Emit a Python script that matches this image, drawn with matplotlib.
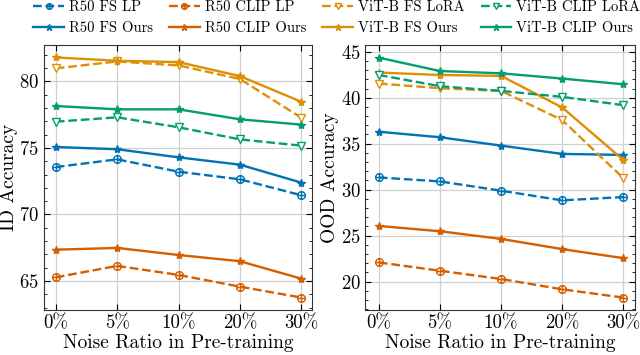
import numpy as np
import matplotlib
matplotlib.use("Agg")
import matplotlib.pyplot as plt
from matplotlib.path import Path
from matplotlib.ticker import AutoMinorLocator

plt.rcParams["font.family"] = "serif"
plt.rcParams["font.serif"] = ["cmr10"]
plt.rcParams["mathtext.fontset"] = "cm"
plt.rcParams["axes.formatter.use_mathtext"] = True
plt.rcParams["axes.unicode_minus"] = False

noise = ["0%", "5%", "10%", "20%", "30%"]

# ID accuracy
id_r50_fs_lp = [73.56, 74.14, 73.21, 72.64, 71.44]
id_r50_clip_lp = [65.27, 66.13, 65.45, 64.57, 63.75]
id_vit_fs_lora = [80.98, 81.50, 81.20, 80.18, 77.27]
id_vit_clip_lora = [76.97, 77.30, 76.55, 75.64, 75.17]
id_r50_fs_ours = [75.07, 74.90, 74.29, 73.74, 72.39]
id_r50_clip_ours = [67.35, 67.48, 66.95, 66.48, 65.17]
id_vit_fs_ours = [81.80, 81.55, 81.45, 80.40, 78.47]
id_vit_clip_ours = [78.15, 77.90, 77.90, 77.15, 76.75]

# OOD accuracy
ood_r50_fs_lp = [31.33, 30.90, 29.89, 28.84, 29.20]
ood_r50_clip_lp = [22.09, 21.19, 20.29, 19.17, 18.27]
ood_vit_fs_lora = [41.54, 41.03, 40.74, 37.57, 31.26]
ood_vit_clip_lora = [42.47, 41.25, 40.74, 40.09, 39.19]
ood_r50_fs_ours = [36.30, 35.70, 34.79, 33.89, 33.78]
ood_r50_clip_ours = [26.06, 25.48, 24.65, 23.54, 22.56]
ood_vit_fs_ours = [42.73, 42.47, 42.37, 38.94, 33.24]
ood_vit_clip_ours = [44.35, 42.90, 42.65, 42.08, 41.46]

c_blue = "#0173b2"
c_red = "#d55e00"
c_orange = "#de8f05"
c_green = "#029e73"

# circle with a plus inside
circ = Path.unit_circle()
cross = Path([(-1, 0), (1, 0), (0, -1), (0, 1)],
             [Path.MOVETO, Path.LINETO, Path.MOVETO, Path.LINETO])
oplus = Path.make_compound_path(circ, cross)

x = np.arange(len(noise))

fig = plt.figure(figsize=(6.4, 3.55), dpi=100)
ax1 = fig.add_axes([0.068, 0.127, 0.420, 0.746])
ax2 = fig.add_axes([0.571, 0.127, 0.421, 0.746])


def draw(ax, d):
    lw = 1.7
    ms = 5.5
    hs = []
    for vals, col, name, kind in d:
        if kind == "lp":
            h, = ax.plot(x, vals, color=col, ls="--", lw=lw, marker=oplus,
                         ms=ms, mfc="none", mew=1.0, label=name)
        elif kind == "lora":
            h, = ax.plot(x, vals, color=col, ls="--", lw=lw, marker="v",
                         ms=ms + 0.5, mfc="white", mew=1.0, label=name)
        else:
            h, = ax.plot(x, vals, color=col, ls="-", lw=lw, marker="*",
                         ms=ms + 0.5, label=name)
        hs.append(h)
    ax.set_xticks(x)
    ax.set_xticklabels(noise)
    ax.yaxis.set_minor_locator(AutoMinorLocator(5))
    ax.tick_params(which="both", direction="in", top=True, right=True,
                   labelsize=13.5)
    ax.tick_params(which="major", length=4)
    ax.tick_params(which="minor", length=2)
    ax.grid(True, color="#d0d0d0", lw=0.9)
    ax.set_axisbelow(True)
    for s in ax.spines.values():
        s.set_color("#333333")
    ax.set_xlabel("Noise Ratio in Pre-training", fontsize=14, labelpad=1)
    return hs


hs = draw(ax1, [
    (id_r50_fs_lp, c_blue, "R50 FS LP", "lp"),
    (id_r50_fs_ours, c_blue, "R50 FS Ours", "ours"),
    (id_r50_clip_lp, c_red, "R50 CLIP LP", "lp"),
    (id_r50_clip_ours, c_red, "R50 CLIP Ours", "ours"),
    (id_vit_fs_lora, c_orange, "ViT-B FS LoRA", "lora"),
    (id_vit_fs_ours, c_orange, "ViT-B FS Ours", "ours"),
    (id_vit_clip_lora, c_green, "ViT-B CLIP LoRA", "lora"),
    (id_vit_clip_ours, c_green, "ViT-B CLIP Ours", "ours"),
])
draw(ax2, [
    (ood_r50_fs_lp, c_blue, "R50 FS LP", "lp"),
    (ood_r50_fs_ours, c_blue, "R50 FS Ours", "ours"),
    (ood_r50_clip_lp, c_red, "R50 CLIP LP", "lp"),
    (ood_r50_clip_ours, c_red, "R50 CLIP Ours", "ours"),
    (ood_vit_fs_lora, c_orange, "ViT-B FS LoRA", "lora"),
    (ood_vit_fs_ours, c_orange, "ViT-B FS Ours", "ours"),
    (ood_vit_clip_lora, c_green, "ViT-B CLIP LoRA", "lora"),
    (ood_vit_clip_ours, c_green, "ViT-B CLIP Ours", "ours"),
])

ax1.set_xlim(-0.2, 4.18)
ax1.set_ylim(62.82, 82.73)
ax1.set_yticks([65, 70, 75, 80])
ax1.set_ylabel("ID Accuracy", fontsize=14, labelpad=0.5)

ax2.set_xlim(-0.22, 4.19)
ax2.set_ylim(16.93, 45.72)
ax2.set_yticks([20, 25, 30, 35, 40, 45])
ax2.set_ylabel("OOD Accuracy", fontsize=14, labelpad=1)

fig.legend(handles=hs, loc="upper left", bbox_to_anchor=(0.052, 1.0),
           ncol=4, frameon=False, fontsize=10.5, handlelength=2.1,
           columnspacing=1.1, handletextpad=0.35, labelspacing=0.5,
           markerscale=0.75, borderpad=0, borderaxespad=0)

fig.savefig("out.png", dpi=100)
